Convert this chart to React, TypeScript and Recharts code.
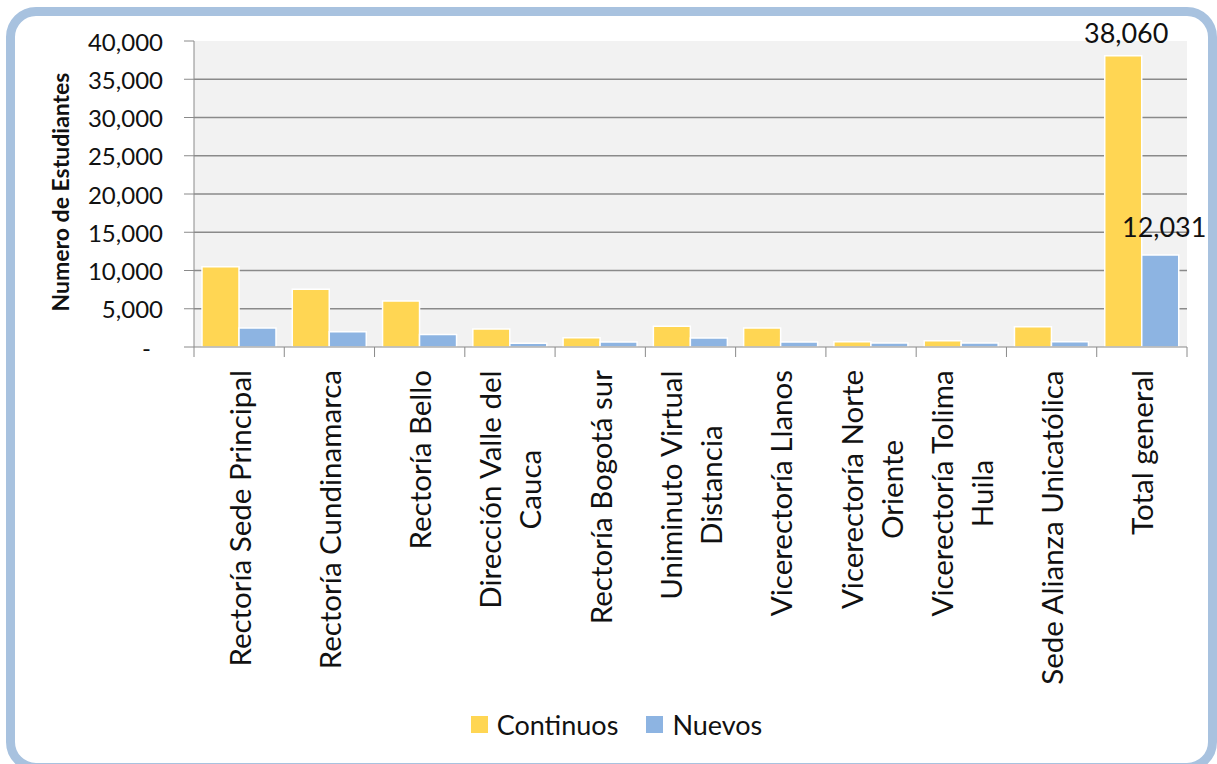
import { BarChart, Bar, XAxis, YAxis, CartesianGrid, Legend, LabelList, Label } from 'recharts';

const categories = [
    'Rectoría Sede Principal',
    'Rectoría Cundinamarca',
    'Rectoría Bello',
    'Dirección Valle del\nCauca',
    'Rectoría Bogotá sur',
    'Uniminuto Virtual\nDistancia',
    'Vicerectoría Llanos',
    'Vicerectoría Norte\nOriente',
    'Vicerectoría Tolima\nHuila',
    'Sede Alianza Unicatólica',
    'Total general',
];
const continuos = [10500, 7550, 6000, 2350, 1200, 2700, 2500, 700, 820, 2650, 38060];
const nuevos = [2500, 2000, 1650, 500, 650, 1180, 650, 520, 520, 700, 12031];
const yTicks = [0, 5000, 10000, 15000, 20000, 25000, 30000, 35000, 40000];
const labelledCategory = 'Total general';

const data = categories.map((name, i) => ({ name, continuos: continuos[i], nuevos: nuevos[i] }));

const YELLOW = '#ffd653';
const BLUE = '#8db4e2';
const AXIS = '#8a8a8a';
const FONT = 'Lato, "Open Sans", sans-serif';
const X_FONT_SIZE = 29.5;

const ctx = typeof document !== 'undefined' ? document.createElement('canvas').getContext('2d') : null;
const measure = (s: string, font: string) => {
    if (!ctx) return s.length * 12;
    ctx.font = font;
    return ctx.measureText(s).width;
};

const fmt = (v: number) => v.toLocaleString('en-US');

const XTick = (props: any) => {
    const { x, y, payload, index } = props;
    const half = payload.offset ?? 45;
    const lines = String(payload.value).split('\n');
    const maxW = Math.max(...lines.map((l: string) => measure(l, `${X_FONT_SIZE}px Lato`)));
    const n = lines.length;
    return (
        <g>
            <line x1={x - half} y1={y} x2={x - half} y2={y + 10} stroke={AXIS} />
            {index === categories.length - 1 && <line x1={x + half} y1={y} x2={x + half} y2={y + 10} stroke={AXIS} />}
            <g transform={`translate(${x}, ${y + 23}) rotate(-90)`}>
                {lines.map((l: string, i: number) => (
                    <text key={i} x={-maxW / 2} y={(i - (n - 1) / 2) * 40} textAnchor="middle" dominantBaseline="central"
                        fontFamily={FONT} fontSize={X_FONT_SIZE} fill="#111">{l}</text>
                ))}
            </g>
        </g>
    );
};

const YTick = (props: any) => {
    const { x, y, payload } = props;
    const v = payload.value;
    return (
        <text x={v === 0 ? x - 12 : x} y={y} textAnchor="end" dominantBaseline="central" fontFamily={FONT} fontSize={24} fill="#111">
            {v === 0 ? '-' : fmt(v)}
        </text>
    );
};

const makeTotalLabel = (dx: number, dy: number) => (props: any) => {
    const { x, y, width, value, index } = props;
    if (categories[index] !== labelledCategory) return null;
    return (
        <text x={x + width / 2 + dx} y={y + dy} textAnchor="middle" fontFamily={FONT} fontSize={27} fill="#111">
            {fmt(value)}
        </text>
    );
};

const LegendBox = () => (
    <div style={{ display: 'flex', justifyContent: 'center', alignItems: 'center', fontFamily: FONT, fontSize: 27, color: '#111', paddingLeft: 16 }}>
        <span style={{ width: 17, height: 17, background: YELLOW, display: 'inline-block', marginRight: 9 }} />
        <span style={{ marginRight: 28 }}>Continuos</span>
        <span style={{ width: 17, height: 17, background: BLUE, display: 'inline-block', marginRight: 9 }} />
        <span>Nuevos</span>
    </div>
);

export default function App() {
    return (
        <div style={{ position: 'absolute', left: 0, top: 0, width: 1217, height: 764, overflow: 'hidden', background: '#fff' }}>
            <div style={{ position: 'absolute', left: 6, top: 7, width: 1211, height: 765, boxSizing: 'border-box', border: '9px solid #a8c2df', borderRadius: 30 }} />
            <div style={{ position: 'absolute', left: 0, top: 0 }}>
                <BarChart width={1217} height={764} data={data} margin={{ top: 41, right: 30, left: 0, bottom: 77 }}
                    barCategoryGap={8} barGap={0}>
                    <CartesianGrid vertical={false} horizontalValues={yTicks.slice(1, -1)} stroke={AXIS} strokeWidth={1.5} fill="#f2f2f2" />
                    <XAxis dataKey="name" type="category" height={340} interval={0} tickSize={0} tickMargin={0}
                        axisLine={{ stroke: AXIS }} tickLine={false} tick={<XTick />} />
                    <YAxis type="number" domain={[0, 40000]} ticks={yTicks} width={194} tickSize={10} tickMargin={21}
                        axisLine={{ stroke: AXIS }} tickLine={{ stroke: AXIS }} tick={<YTick />}>
                        <Label content={(p: any) => {
                            const vb = p.viewBox;
                            const cx = vb.x + 60;
                            const cy = vb.y + vb.height / 2 - 2;
                            return (
                                <text x={cx} y={cy} transform={`rotate(-90, ${cx}, ${cy})`} textAnchor="middle" dominantBaseline="central"
                                    fontFamily={FONT} fontSize={23} fontWeight="bold" fill="#111">Numero de Estudiantes</text>
                            );
                        }} />
                    </YAxis>
                    <Legend verticalAlign="middle" align="center" layout="horizontal" content={<LegendBox />}
                        wrapperStyle={{ top: 708, left: 0, width: 1217, height: 34 }} />
                    <Bar dataKey="continuos" name="Continuos" fill={YELLOW} stroke="#fff" strokeWidth={1.5} isAnimationActive={false}>
                        <LabelList dataKey="continuos" content={makeTotalLabel(3, -13)} />
                    </Bar>
                    <Bar dataKey="nuevos" name="Nuevos" fill={BLUE} stroke="#fff" strokeWidth={1.5} isAnimationActive={false}>
                        <LabelList dataKey="nuevos" content={makeTotalLabel(4, -18)} />
                    </Bar>
                </BarChart>
            </div>
        </div>
    );
}
